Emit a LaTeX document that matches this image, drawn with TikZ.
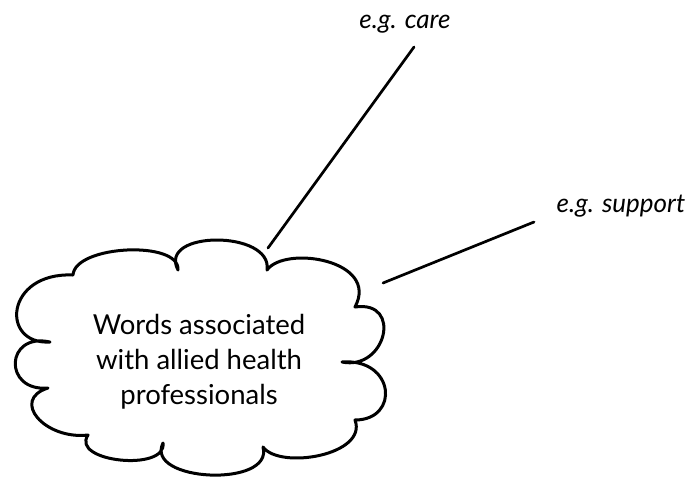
\documentclass[tikz,border=0pt]{standalone}
\usepackage{fontspec}
\setmainfont{Lato}
\begin{document}
\begin{tikzpicture}[x=1pt,y=-1pt,
  cloudline/.style={line width=3pt,line join=round,line cap=round},
  link/.style={line width=2.7pt,line cap=round},
  label/.style={font=\fontsize{26}{30}\selectfont\itshape,anchor=base,inner sep=0pt},
  maintext/.style={font=\fontsize{27.5}{35}\selectfont,align=center,inner sep=0pt}]
\useasboundingbox (0,0) rectangle (695,477);
% cloud outline
\draw[cloudline] (73,275)
  .. controls (75,245) and (180,240) .. (178,270)
  .. controls (157,230) and (273,230) .. (267,270)
  .. controls (285,245) and (380,260) .. (355,307)
  .. controls (403,300) and (386,371) .. (342,362)
  .. controls (395,358) and (400,420) .. (355,420)
  .. controls (368,455) and (280,470) .. (263,447)
  .. controls (274,488) and (144,482) .. (163,443)
  .. controls (167,472) and (70,462) .. (88,435)
  .. controls (45,440) and (10,400) .. (48,388)
  .. controls (3,392) and (5,332) .. (50,342)
  .. controls (0,345) and (5,272) .. cycle;
\node[maintext] (cloud) at (199,362) {Words associated\\with allied health\\professionals};
\node[label] (care) at (405,28) {e.g. care};
\node[label] (support) at (621,212) {e.g. support};
\coordinate (careend) at (414,47);
\coordinate (cloudtop) at (268,248);
\coordinate (supportend) at (534,222);
\coordinate (cloudright) at (383,283);
\draw[link] (careend) -- (cloudtop);
\draw[link] (supportend) -- (cloudright);
\end{tikzpicture}
\end{document}
